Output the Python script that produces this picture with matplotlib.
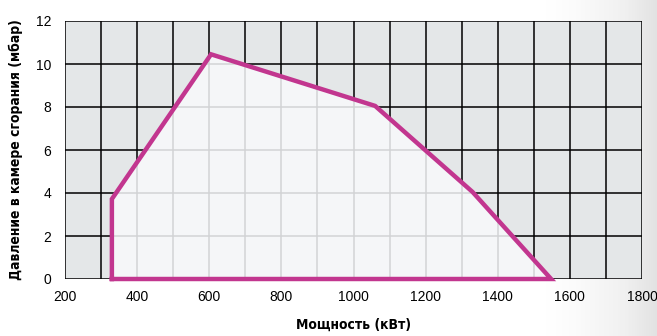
import numpy as np
import matplotlib.pyplot as plt
from matplotlib.patches import Polygon

# working field of the burner
power_kw = [330, 330, 605, 1060, 1330, 1548, 330]
pressure_mbar = [0, 3.72, 10.45, 8.05, 4.05, 0, 0]

x_ticks = list(range(200, 1801, 200))
y_ticks = list(range(0, 13, 2))
x_grid = list(range(200, 1801, 100))

line_col = "#C2368F"
fig = plt.figure(figsize=(6.57, 3.36), dpi=100)

# soft grey shading on the right edge of the page
bg = fig.add_axes([0, 0, 1, 1], zorder=-10)
grad = np.linspace(0, 1, 300)
grad = np.clip((grad - 0.82) / 0.18, 0, 1) ** 1.5
bg.imshow(np.tile(grad, (10, 1)), cmap="Greys", vmin=0, vmax=5,
          aspect="auto", extent=[0, 1, 0, 1])
bg.axis("off")

ax = fig.add_axes([65 / 657, 57 / 336, 577 / 657, 258 / 336])
ax.set_facecolor("#E4E7E8")
ax.set_xlim(200, 1800)
ax.set_ylim(0, 12)

for x in x_grid:
    ax.axvline(x, color="black", lw=1.1, zorder=1)
for y in y_ticks:
    ax.axhline(y, color="black", lw=1.1, zorder=1)

poly = Polygon(list(zip(power_kw, pressure_mbar)), closed=True,
               facecolor="#F5F6F8", edgecolor="none", zorder=2)
ax.add_patch(poly)

# light grid inside the working field
for x in x_grid:
    l = ax.axvline(x, color="#D2D3D5", lw=1.1, zorder=3)
    l.set_clip_path(poly)
for y in y_ticks:
    l = ax.axhline(y, color="#D2D3D5", lw=1.1, zorder=3)
    l.set_clip_path(poly)

ax.plot(power_kw, pressure_mbar, color=line_col, lw=3.2,
        solid_joinstyle="miter", zorder=5, clip_on=False)

for s in ax.spines.values():
    s.set_visible(False)

ax.set_xticks(x_ticks)
ax.set_yticks(y_ticks)
ax.tick_params(length=0, labelsize=10, pad=8)
ax.tick_params(axis="y", pad=10)
for t in ax.get_xticklabels() + ax.get_yticklabels():
    t.set_fontfamily(["Liberation Sans", "DejaVu Sans"])

lab_font = dict(family="DejaVu Sans", stretch="condensed",
                fontweight="bold", fontsize=10)
ax.set_xlabel("Мощность (кВт)", labelpad=10, **lab_font)
ax.set_ylabel("Давление в камере сгорания (мбар)", labelpad=9, **lab_font)

fig.savefig("out.png", dpi=100)
